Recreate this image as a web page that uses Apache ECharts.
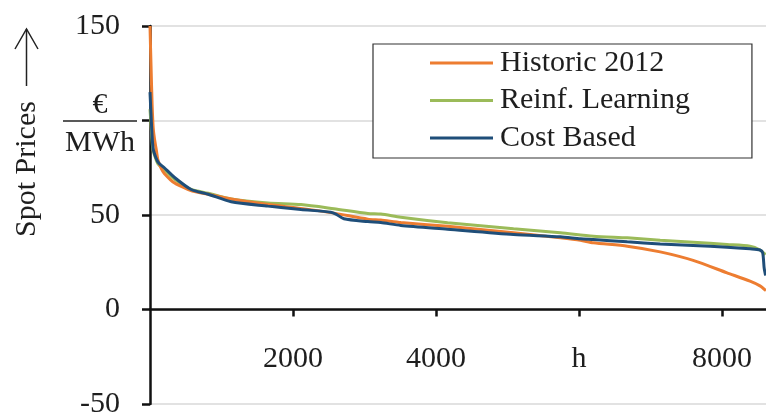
<!DOCTYPE html>
<html>
<head>
<meta charset="utf-8">
<title>Spot price duration curves</title>
<script src="https://cdn.jsdelivr.net/npm/echarts@6/dist/echarts.min.js"></script>
<style>
  html, body { margin: 0; padding: 0; background: #fff; }
  #chart { width: 766px; height: 412px; }
</style>
</head>
<body>
<div id="chart"></div>
<script>
// Sorted hourly spot prices (duration curves), [hour rank, €/MWh]
const historic2012 = [
  [0, 150], [15, 128], [30, 108], [45, 96], [64, 90], [90, 84], [112, 79],
  [158, 74.5], [200, 72], [339, 67], [535, 63.5], [670, 62], [814, 61],
  [1135, 58.5], [1651, 55.5], [2112, 53.5], [2572, 51], [3047, 47.8],
  [3228, 47.3], [3508, 46], [4163, 44], [5085, 40.6], [5740, 37.9],
  [6020, 36.6], [6201, 35.3], [6676, 33.5], [7136, 30.5], [7597, 26],
  [8071, 19.4], [8392, 15], [8532, 12.5], [8616, 10]
];
const reinfLearning = [
  [0, 106], [18, 96], [36, 86], [60, 82], [112, 77], [200, 74], [339, 69],
  [576, 63.5], [814, 61.5], [1135, 58.5], [1651, 56.4], [2112, 55.5],
  [2572, 53.3], [3047, 50.8], [3228, 50.5], [3508, 48.8], [4163, 45.9],
  [5085, 42.7], [5740, 40.6], [6201, 38.8], [6676, 37.9], [7136, 36.7],
  [7597, 35.6], [8071, 34.4], [8392, 33.5], [8532, 31.5], [8610, 29]
];
const costBased = [
  [0, 115], [18, 100], [36, 88], [50, 84], [112, 78], [200, 75], [339, 70],
  [576, 63.5], [814, 61], [1135, 57], [1651, 54.7], [1833, 54], [2112, 52.9],
  [2530, 51.5], [2600, 50.5], [2712, 48], [3047, 46.5], [3228, 46],
  [3508, 44.5], [4163, 42.5], [5085, 39.7], [5740, 38.5], [6020, 37.4],
  [6201, 37], [6676, 35.8], [7136, 34.7], [7597, 33.9], [8071, 33],
  [8392, 32.1], [8532, 31.5], [8570, 30], [8590, 22], [8610, 18]
];

const seriesNames = ['Historic 2012', 'Reinf. Learning', 'Cost Based'];
const seriesColors = ['#ED7D31', '#9BBB59', '#1F4E79'];
const xTickValues = [2000, 4000, 6000, 8000];
const xTickLabels = ['2000', '4000', 'h', '8000'];
const yTicks = [-50, 0, 50, 100, 150];

const FONT = '"Liberation Serif", "DejaVu Serif", serif';
const INK = '#1e1e1e';

const chart = echarts.init(document.getElementById('chart'), null, { renderer: 'canvas' });

function lineSeries(name, data, color) {
  return {
    name: name,
    type: 'line',
    data: data,
    showSymbol: false,
    smooth: 0.25,
    lineStyle: { color: color, width: 3 },
    itemStyle: { color: color },
    emphasis: { disabled: true }
  };
}

chart.setOption({
  animation: false,
  backgroundColor: '#fff',
  grid: { left: 150, right: 0, top: 26, bottom: 8, containLabel: false, outerBoundsMode: 'none' },
  xAxis: {
    type: 'value',
    min: 0,
    max: 8616,
    offset: 0,
    axisLine: { show: true, onZero: false, lineStyle: { color: '#111', width: 2.5 } },
    axisTick: {
      show: true, inside: false, length: 7,
      customValues: xTickValues,
      lineStyle: { color: '#111', width: 2.5 }
    },
    axisLabel: {
      customValues: xTickValues,
      margin: 35,
      fontFamily: FONT, fontSize: 30, color: INK,
      formatter: v => {
        const i = xTickValues.indexOf(v);
        return i >= 0 ? xTickLabels[i] : '';
      }
    },
    splitLine: { show: false }
  },
  yAxis: {
    type: 'value',
    min: yTicks[0],
    max: yTicks[yTicks.length - 1],
    interval: 50,
    axisLine: { show: true, onZero: false, lineStyle: { color: '#111', width: 2.5 } },
    axisTick: { show: true, inside: false, length: 8, lineStyle: { color: '#111', width: 2.5 } },
    axisLabel: {
      margin: 30,
      fontFamily: FONT, fontSize: 30, color: INK,
      formatter: v => (v === 100 ? '' : String(v))
    },
    splitLine: { show: true, lineStyle: { color: '#d9d9d9', width: 1.5 } }
  },
  legend: {
    orient: 'vertical',
    left: 373,
    top: 44,
    padding: [4, 62, 5, 57],
    itemGap: 7.5,
    itemWidth: 63,
    itemHeight: 3,
    icon: 'rect',
    backgroundColor: '#fff',
    borderColor: '#333',
    borderWidth: 1.2,
    borderRadius: 0,
    selectedMode: false,
    data: seriesNames,
    textStyle: { fontFamily: FONT, fontSize: 30, color: INK, lineHeight: 30, padding: [0, 0, 0, 2] }
  },
  series: [
    lineSeries(seriesNames[1], reinfLearning, seriesColors[1]),
    lineSeries(seriesNames[0], historic2012, seriesColors[0]),
    lineSeries(seriesNames[2], costBased, seriesColors[2])
  ],
  graphic: [
    // unit fraction in place of the 100 label
    { type: 'text', x: 100, y: 105,
      style: { text: '€', font: '30px ' + FONT, fill: INK, align: 'center', verticalAlign: 'middle' } },
    { type: 'line', shape: { x1: 63, y1: 121, x2: 137, y2: 121 },
      style: { stroke: '#222', lineWidth: 1.5 } },
    { type: 'text', x: 100, y: 143,
      style: { text: 'MWh', font: '30px ' + FONT, fill: INK, align: 'center', verticalAlign: 'middle' } },
    // rotated axis title with upward arrow
    { type: 'text', x: 27, y: 169, rotation: Math.PI / 2,
      style: { text: 'Spot Prices', font: '30px ' + FONT, fill: INK, align: 'center', verticalAlign: 'middle' } },
    { type: 'line', shape: { x1: 26.5, y1: 86, x2: 26.5, y2: 29 },
      style: { stroke: '#222', lineWidth: 1.5 } },
    { type: 'polyline', shape: { points: [[15, 49], [26.5, 29], [38, 49]] },
      style: { stroke: '#222', lineWidth: 1.5, fill: null } }
  ]
});

// Lift the whole x axis (line, ticks, labels) up to the zero price level.
const zeroY = chart.convertToPixel({ yAxisIndex: 0 }, 0);
const bottomY = chart.convertToPixel({ yAxisIndex: 0 }, yTicks[0]);
chart.setOption({ xAxis: { offset: zeroY - bottomY } });
</script>
</body>
</html>
